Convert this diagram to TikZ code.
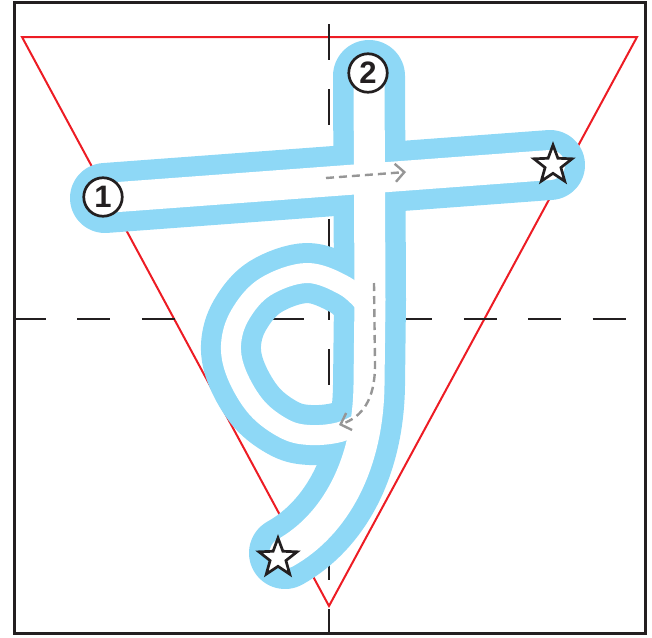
\documentclass[tikz,border=0pt]{standalone}
\usepackage{fontspec}
\newfontfamily\numfont{Liberation Sans}
\usetikzlibrary{arrows.meta,shapes.geometric}
\definecolor{strokeblue}{RGB}{142,216,246}
\definecolor{guidered}{RGB}{237,28,36}
\definecolor{inkblack}{RGB}{35,31,32}
\definecolor{hintgray}{RGB}{150,150,150}

\begin{document}
\begin{tikzpicture}[x=1pt,y=-1pt,
    guideline/.style={draw=inkblack, line width=2.2pt, dash pattern=on 33pt off 31.4pt},
    band/.style 2 args={draw=#1, line width=#2, line cap=round, line join=round},
    hintarrow/.style={draw=hintgray, line width=2.4pt, dash pattern=on 8pt off 5pt,
                      -{Straight Barb[length=9pt,width=18pt]}},
    ordermark/.style={circle, draw=inkblack, fill=white, line width=2.7pt, minimum size=38.5pt,
                      inner sep=0pt, text=inkblack, font=\numfont\bfseries\fontsize{31}{31}\selectfont},
    endstar/.style={star, star points=5, star point ratio=2.4, draw=inkblack, fill=white,
                    line width=2.7pt, minimum size=40pt, inner sep=0pt}]
  \useasboundingbox (0,0) rectangle (652,637);
  % ---- grid box ----
  \draw[inkblack, line width=2.5pt] (14.5,2.5) rectangle (645.5,633.5);
  \draw[guidered, line width=2pt, line join=miter] (22,37) -- (637,37) -- (329,606) -- cycle;
  \draw[guideline] (13,319) -- (626,319);
  \draw[guideline, dash pattern=on 36pt off 29pt] (329,24) -- (329,633);
  % ---- strokes ----
  \coordinate (s1a) at (105,198);
  \coordinate (s1b) at (550,165);
  \coordinate (s2a) at (369,76);
  \coordinate (s2b) at (370,300);
  \coordinate (s2c) at (369,385);
  \coordinate (s2d) at (285,553);
  \foreach \col/\wa/\wb/\wc in {strokeblue/70pt/72pt/60pt, white/30pt/31pt/20pt}{
    \draw[band={\col}{\wa}] (s1a) -- (s1b);
    \draw[band={\col}{\wb}] (s2a) -- (s2b) -- (s2c) .. controls (368,465) and (335,525) .. (s2d);
    \draw[band={\col}{\wc}] plot[smooth, tension=0.6] coordinates {(366,305) (345,286) (307,273)
      (265,287) (240,315) (231,345) (237,375) (257,408) (285,429) (310,435) (340,432) (366,420)};
  }
  % ---- direction hints ----
  \coordinate (h1a) at (326,178);
  \coordinate (h1b) at (406,172);
  \draw[hintarrow] (h1a) -- (h1b);
  \coordinate (h2a) at (374,283);
  \coordinate (h2b) at (339,425);
  \draw[hintarrow] (h2a) -- (375,365) .. controls (375,400) and (362,417) .. (h2b);
  % ---- order marks ----
  \node[ordermark] (one) at (103,197) {1};
  \node[ordermark] (two) at (368,73) {2};
  \node[endstar] (endone) at (553,165) {};
  \node[endstar] (endtwo) at (278,558) {};
\end{tikzpicture}
\end{document}
